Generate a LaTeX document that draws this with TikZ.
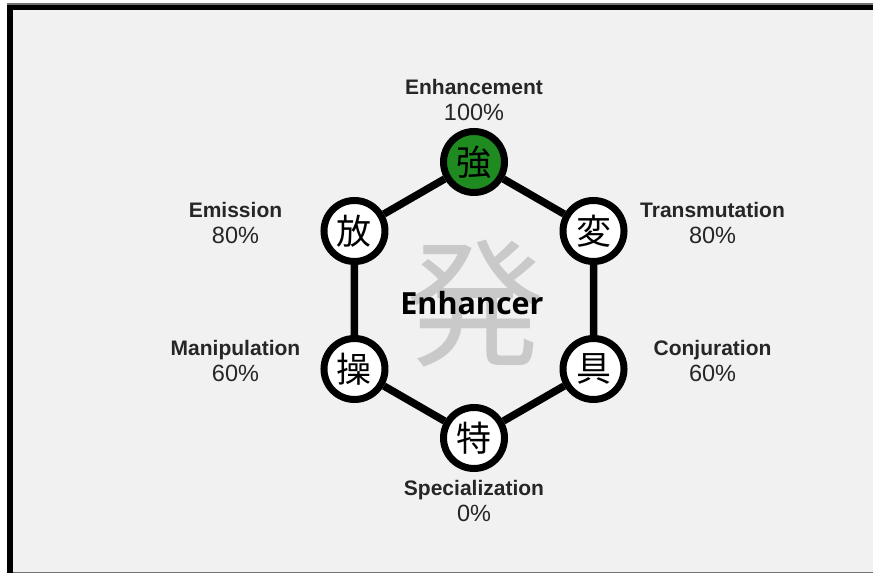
\documentclass[tikz,border=0pt]{standalone}
\usepackage{fontspec}
\setmainfont{Liberation Sans}
\newfontfamily\cjk{Noto Sans CJK JP}
\newfontfamily\titlefont{Open Sans}
\usepackage{xcolor}
\usepackage{tikz}
\usetikzlibrary{calc, positioning}
\definecolor{paper}{HTML}{F1F1F1}
\definecolor{ghost}{HTML}{C9C9C9}
\definecolor{strgreen}{HTML}{1F8A1F}
\newcommand{\nenpct}[2]{{\fontsize{21}{26}\selectfont\bfseries #1}\\{\fontsize{23.5}{26}\selectfont #2\%}}
\tikzset{
    hatsu/.style={circle, draw=black, line width=7pt, fill=white, minimum size=61pt, inner sep=0pt, font=\cjk\fontsize{35}{35}\selectfont},
    edge/.style={line width=7.5pt, draw=black},
    typelabel/.style={align=center, inner sep=0pt, text=black!85, font=\fontsize{23.5}{26}\selectfont}
}
\begin{document}
\begin{tikzpicture}[x=1pt, y=1pt]
        \useasboundingbox (0,0) rectangle (873,573);
        % frame
        \fill[white] (0,0) rectangle (873,573);
        \fill[paper] (12,1) rectangle (873,563);
        \fill[black!55] (7,568.3) rectangle (873,569.5);
        \fill[black] (7,563) rectangle (873,568.3);
        \fill[black] (7,0) rectangle (12.7,568.3);
        \fill[black!55] (12.7,0) rectangle (873,1.3);

        % centre
        \coordinate (c) at (474,273);
        \node[font=\cjk\fontsize{138}{138}\selectfont, text=ghost, inner sep=0pt] (hatsuji) at (475,269) {発};
        \node[font=\titlefont\bfseries\fontsize{30.5}{30.5}\selectfont, anchor=base, inner sep=0pt] (enhancer) at (472,258) {Enhancer};

        % hexagon
        \node[hatsu, fill=strgreen] (str) at ($(c)+(90:138)$) {強};
        \node[hatsu] (hen) at ($(c)+(30:138)$) {変};
        \node[hatsu] (gu) at ($(c)+(-30:138)$) {具};
        \node[hatsu] (tok) at ($(c)+(-90:138)$) {特};
        \node[hatsu] (sou) at ($(c)+(210:138)$) {操};
        \node[hatsu] (hou) at ($(c)+(150:138)$) {放};
        \draw[edge] (str) -- (hen) (hen) -- (gu) (gu) -- (tok) (tok) -- (sou) (sou) -- (hou) (hou) -- (str);

        % Labels
        \node[typelabel] (strL) at ($(str)+(0,62)$) {\nenpct{Enhancement}{100}};
        \node[typelabel] (henL) at ($(hen)+(119,8)$) {\nenpct{Transmutation}{80}};
        \node[typelabel] (guL) at ($(gu)+(119,8)$) {\nenpct{Conjuration}{60}};
        \node[typelabel] (tokL) at ($(tok)+(0,-63)$) {\nenpct{Specialization}{0}};
        \node[typelabel] (souL) at ($(sou)+(-119,8)$) {\nenpct{Manipulation}{60}};
        \node[typelabel] (houL) at ($(hou)+(-119,8)$) {\nenpct{Emission}{80}};
    \end{tikzpicture}
\end{document}
